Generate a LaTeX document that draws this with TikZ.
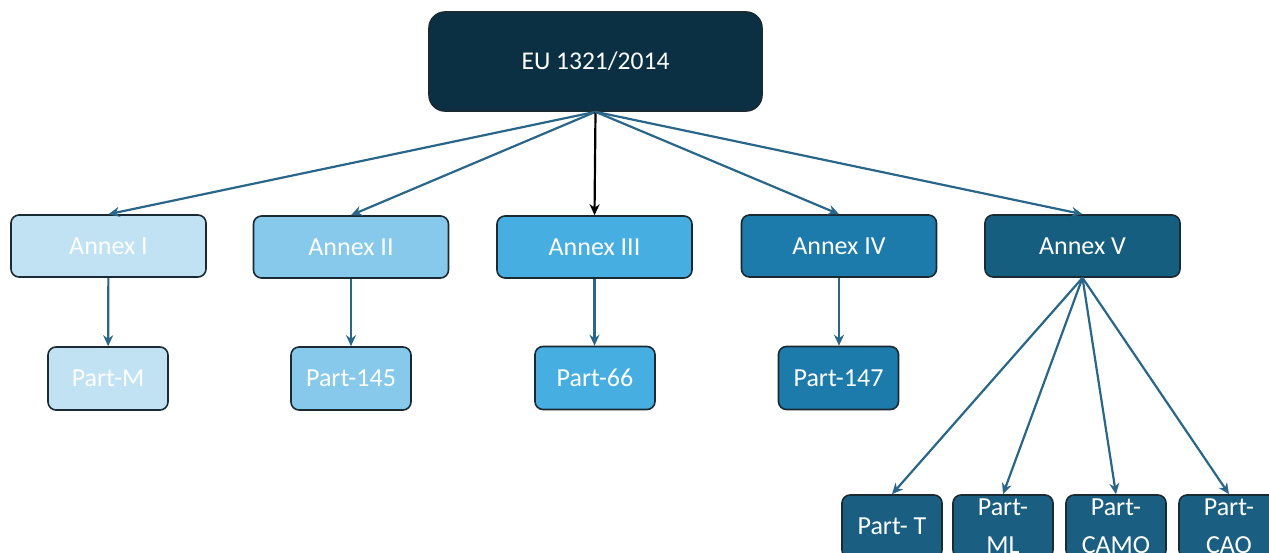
\documentclass[tikz,border=0pt]{standalone}
\usepackage{fontspec}
\setmainfont{Carlito}
\usetikzlibrary{arrows.meta}
\definecolor{topc}{HTML}{0B3043}
\definecolor{c1}{HTML}{C0E2F3}
\definecolor{c2}{HTML}{86C9EA}
\definecolor{c3}{HTML}{46AEE0}
\definecolor{c4}{HTML}{1C7BAA}
\definecolor{c5}{HTML}{155E80}
\definecolor{c6}{HTML}{1A5F82}
\definecolor{bord}{HTML}{1A2A33}
\definecolor{arr}{HTML}{2A6688}
\tikzset{
  box/.style={draw=bord, line width=1.6pt, rounded corners=8pt, minimum width=195pt, minimum height=62pt, text=white, font=\fontsize{26}{30}\selectfont, inner sep=0pt, align=center},
  partbox/.style={box, minimum width=120pt, minimum height=63pt},
  smallbox/.style={box, minimum width=100pt, minimum height=63pt, fill=c6, font=\fontsize{26}{38}\selectfont},
  conn/.style={draw=arr, line width=2.2pt, -{Stealth[length=11pt,width=10pt]}},
}
\begin{document}
\begin{tikzpicture}[x=1pt,y=-1pt]
\useasboundingbox (0,0) rectangle (1269,552);
\clip (0,0) rectangle (1269,552);
\fill[white] (0,0) rectangle (1269,552);
\node[box, fill=topc, minimum width=333pt, minimum height=99pt, rounded corners=16pt, font=\fontsize{25.5}{30}\selectfont] (eu) at (595.5,61.5) {EU 1321/2014};
\node[box, fill=c1] (a1) at (108.5,246) {Annex I};
\node[box, fill=c2] (a2) at (351,247) {Annex II};
\node[box, fill=c3] (a3) at (594.5,247) {Annex III};
\node[box, fill=c4] (a4) at (839,246) {Annex IV};
\node[box, fill=c5] (a5) at (1082.5,246) {Annex V};
\node[partbox, fill=c1] (pm) at (108,378.5) {Part-M};
\node[partbox, fill=c2] (p145) at (351,378.5) {Part-145};
\node[partbox, fill=c3] (p66) at (595,378) {Part-66};
\node[partbox, fill=c4] (p147) at (838.5,378) {Part-147};
\node[smallbox] (pt) at (892,526.5) {Part- T};
\node[smallbox] (pml) at (1003,526.5) {Part-\\ML};
\node[smallbox] (pcamo) at (1116,526.5) {Part-\\CAMO};
\node[smallbox] (pcao) at (1229,526.5) {Part-\\CAO};
\draw[conn] (eu.south) -- (a1.north);
\draw[conn] (eu.south) -- (a2.north);
\draw[conn, draw=black] (eu.south) -- (a3.north);
\draw[conn] (eu.south) -- (a4.north);
\draw[conn] (eu.south) -- (a5.north);
\draw[conn] (a1) -- (pm);
\draw[conn] (a2) -- (p145);
\draw[conn] (a3.south) -- (a3.south |- p66.north);
\draw[conn] (a4.south) -- (a4.south |- p147.north);
\draw[conn] (a5.south) -- (pt.north);
\draw[conn] (a5.south) -- (pml.north);
\draw[conn] (a5.south) -- (pcamo.north);
\draw[conn] (a5.south) -- (pcao.north);
\end{tikzpicture}
\end{document}
